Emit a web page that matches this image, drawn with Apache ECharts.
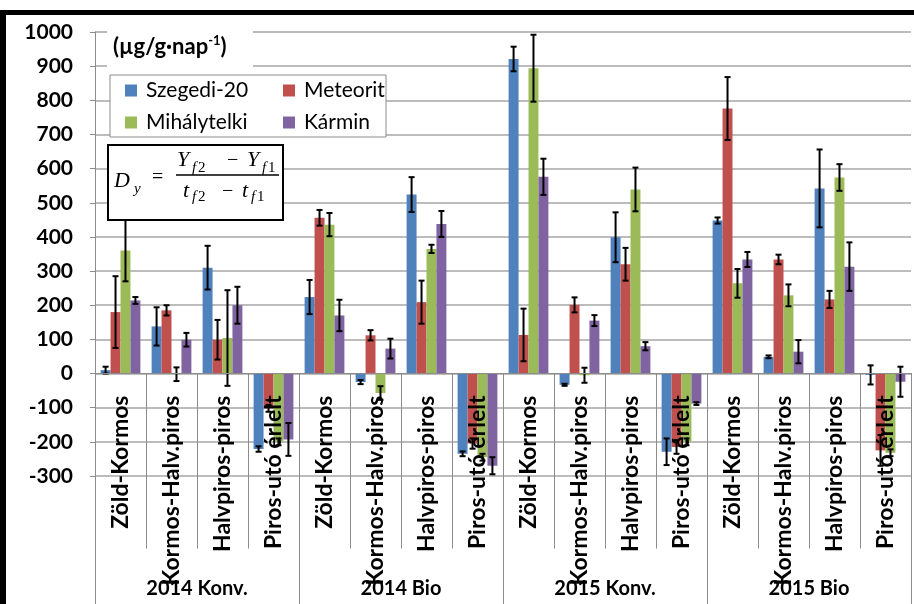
<!DOCTYPE html>
<html>
<head>
<meta charset="utf-8">
<script src="https://cdn.jsdelivr.net/npm/echarts@6/dist/echarts.min.js"></script>
<style>
  html, body { margin: 0; padding: 0; background: #fff; width: 914px; height: 604px; overflow: hidden; }
  #wrap { position: relative; width: 914px; height: 604px; overflow: hidden; }
  #frame { position: absolute; left: 0; top: 10px; width: 6px; height: 594px; background: #000; }
  #frameTop { position: absolute; left: 0; top: 10px; width: 914px; height: 5px; background: #000; }
  #chart { position: absolute; left: 0; top: 0; width: 914px; height: 604px; }
</style>
</head>
<body>
<div id="wrap"><div id="frame"></div><div id="frameTop"></div><div id="chart"></div></div>
<script>
// ---- data ----
const categories = ['Zöld-Kormos','Kormos-Halv.piros','Halvpiros-piros','Piros-utó érlelt',
                    'Zöld-Kormos','Kormos-Halv.piros','Halvpiros-piros','Piros-utó érlelt',
                    'Zöld-Kormos','Kormos-Halv.piros','Halvpiros-piros','Piros-utó érlelt',
                    'Zöld-Kormos','Kormos-Halv.piros','Halvpiros-piros','Piros-utó érlelt'];
const groups = ['2014 Konv.','2014 Bio','2015 Konv.','2015 Bio'];
const seriesNames = ['Szegedi-20','Meteorit','Mihálytelki','Kármin'];
const szegedi     = [10,138,310,-221, 224,-25,524,-235, 921,-33,399,-229, 448,49,542,-4];
const szegediErr  = [10,56,64,8, 50,6,51,7, 36,3,73,39, 9,4,114,28];
const meteorit    = [180,185,99,-102, 456,112,209,-205, 113,201,320,-215, 776,334,217,-225];
const meteoritErr = [105,15,58,10, 23,15,63,15, 77,22,48,20, 92,14,25,45];
const mihaly      = [360,-2,104,-200, 436,-57,365,-245, 894,-5,539,-200, 264,229,574,-232];
const mihalyErr   = [90,20,140,10, 34,20,12,10, 98,22,64,10, 42,32,39,10];
const karmin      = [214,99,200,-193, 170,73,438,-270, 576,155,80,-88, 334,64,313,-24];
const karminErr   = [10,20,54,48, 46,29,38,25, 53,16,12,4, 22,34,71,44];
const yTicks = { min: -300, max: 1000, interval: 100 };

const colors = ['#4F81BD','#C0504D','#9BBB59','#8064A2'];
const values = [szegedi, meteorit, mihaly, karmin];
const errors = [szegediErr, meteoritErr, mihalyErr, karminErr];
const CAT_GAP = 0.22;
const FONT = 'Lato';
const GRID = { left: 95, right: 3, top: 32, bottom: 128 };
const plotH = 604 - GRID.top - GRID.bottom;
// distance from the bottom of the plot (y min) up to the zero line
const zeroOffset = plotH * (0 - yTicks.min) / (yTicks.max - yTicks.min);

const chart = echarts.init(document.getElementById('chart'));

const barSeries = values.map((v, k) => ({
  name: seriesNames[k], type: 'bar', data: v, barGap: '0%', barCategoryGap: (CAT_GAP*100)+'%',
  itemStyle: { color: colors[k] }, z: 2
}));

const errSeries = values.map((v, k) => ({
  name: 'err' + k, type: 'custom', z: 3,
  data: v.map((val, i) => [i, val, errors[k][i]]),
  encode: { x: 0, y: 1 },
  renderItem: function (params, api) {
    const i = api.value(0), val = api.value(1), e = api.value(2);
    const band = api.size([1, 0])[0];
    const total = band * (1 - CAT_GAP);
    const bw = total / 4;
    const c = api.coord([i, val]);
    const x = c[0] - total / 2 + bw * (k + 0.5);
    const yt = api.coord([i, val + e])[1];
    const yb = api.coord([i, val - e])[1];
    const cap = 3;
    const st = { stroke: '#000', lineWidth: 2 };
    return { type: 'group', children: [
      { type: 'line', shape: { x1: x, y1: yt, x2: x, y2: yb }, style: st },
      { type: 'line', shape: { x1: x - cap, y1: yt, x2: x + cap, y2: yt }, style: st },
      { type: 'line', shape: { x1: x - cap, y1: yb, x2: x + cap, y2: yb }, style: st }
    ]};
  }
}));

const serif = '"Liberation Serif", "DejaVu Serif", serif';
function it(t, x, y, size) {
  return { type: 'text', z: 45, x: x, y: y, style: { text: t, font: 'italic ' + size + 'px ' + serif, fill: '#000', textVerticalAlign: 'middle' } };
}
function rm(t, x, y, size) {
  return { type: 'text', z: 45, x: x, y: y, style: { text: t, font: size + 'px ' + serif, fill: '#000', textVerticalAlign: 'middle' } };
}

const option = {
  animation: false,
  textStyle: { fontFamily: FONT },
  grid: Object.assign({ containLabel: false, outerBoundsMode: 'none' }, GRID),
  legend: [
    { data: ['Szegedi-20','Mihálytelki'], orient: 'vertical', left: 120, top: 75, itemGap: 11,
      itemWidth: 12, itemHeight: 12, icon: 'rect', z: 50,
      textStyle: { fontSize: 21, color: '#000', fontFamily: FONT, padding: [0,0,0,4] } },
    { data: ['Meteorit','Kármin'], orient: 'vertical', left: 278, top: 75, itemGap: 11,
      itemWidth: 12, itemHeight: 12, icon: 'rect', z: 50,
      textStyle: { fontSize: 21, color: '#000', fontFamily: FONT, padding: [0,0,0,4] } }
  ],
  xAxis: [
    { type: 'category', data: categories, position: 'bottom', offset: -zeroOffset, z: 6,
      axisLine: { onZero: false, lineStyle: { color: '#8c8c8c', width: 1 } },
      axisTick: { show: true, interval: 0, length: 175, lineStyle: { color: '#8c8c8c' } },
      axisLabel: { interval: 0, rotate: 90, margin: 22, fontSize: 23, fontWeight: 'bold', color: '#000', fontFamily: FONT, hideOverlap: false },
      splitLine: { show: false } },
    { type: 'category', data: groups, position: 'bottom', offset: GRID.bottom,
      axisLine: { show: false, onZero: false },
      axisTick: { show: true, inside: true, interval: 0, length: 231, lineStyle: { color: '#8c8c8c' } },
      axisLabel: { inside: true, interval: 0, margin: 5, fontSize: 20, fontWeight: 'bold', color: '#000', fontFamily: FONT },
      splitLine: { show: false } }
  ],
  yAxis: {
    type: 'value', min: yTicks.min, max: yTicks.max, interval: yTicks.interval,
    axisLine: { show: true, lineStyle: { color: '#8c8c8c' } },
    axisTick: { show: true, length: 5, lineStyle: { color: '#8c8c8c' } },
    axisLabel: { margin: 22, fontSize: 21, fontWeight: 'bold', color: '#000', fontFamily: FONT, formatter: v => String(v) },
    splitLine: { lineStyle: { color: '#a6a6a6', width: 1.5 } }
  },
  series: barSeries.concat(errSeries),
  graphic: { elements: [
    { type: 'rect', z: 40, shape: { x: 107, y: 29, width: 146, height: 40 }, style: { fill: '#fff' } },
    { type: 'text', z: 45, x: 113, y: 47, style: {
        text: '{a|(µg/g·nap}{s|-1}{a|)}', textVerticalAlign: 'middle',
        rich: { a: { fontSize: 22, fontWeight: 'bold', fontFamily: FONT, color: '#000', lineHeight: 26 },
                s: { fontSize: 13, fontWeight: 'bold', fontFamily: FONT, color: '#000', lineHeight: 14, verticalAlign: 'top' } } } },
    { type: 'rect', z: 40, shape: { x: 110, y: 75, width: 276, height: 62 }, style: { fill: '#fff', stroke: '#8c8c8c', lineWidth: 1 } },
    { type: 'rect', z: 40, shape: { x: 108, y: 145, width: 175, height: 75 }, style: { fill: '#fff', stroke: '#000', lineWidth: 2 } },
    it('D', 114, 181, 22), it('y', 134, 189, 15),
    rm('=', 152, 178, 20),
    it('Y', 177, 160, 22), it('f', 192, 168, 15), rm('2', 198, 168, 15),
    rm('−', 227, 161, 20),
    it('Y', 247, 160, 22), it('f', 262, 168, 15), rm('1', 268, 168, 15),
    { type: 'line', z: 45, shape: { x1: 176, y1: 175, x2: 279, y2: 175 }, style: { stroke: '#000', lineWidth: 1.5 } },
    it('t', 183, 191, 22), it('f', 192, 197, 15), rm('2', 198, 197, 15),
    rm('−', 222, 192, 20),
    it('t', 242, 191, 22), it('f', 251, 197, 15), rm('1', 257, 197, 15)
  ]}
};
chart.setOption(option);
</script>
</body>
</html>
